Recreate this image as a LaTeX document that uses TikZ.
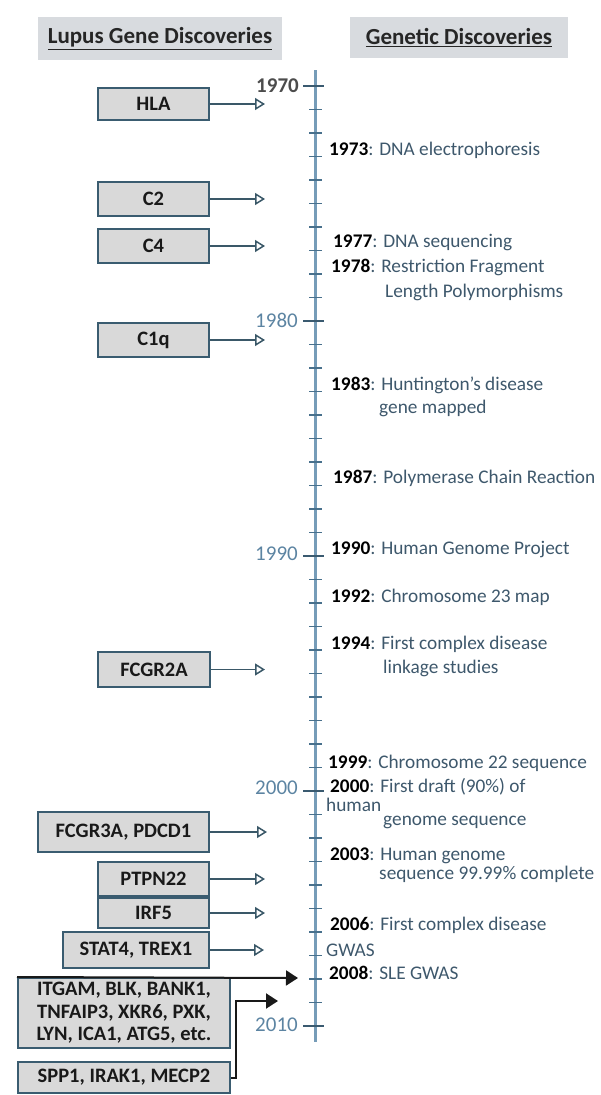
\documentclass[tikz,border=0pt]{standalone}
\usepackage{fontspec}
\setmainfont{Carlito}
\usetikzlibrary{arrows.meta, positioning, calc}

\definecolor{axisblue}{RGB}{118,156,184}
\definecolor{tickblue}{RGB}{72,112,140}
\definecolor{decblue}{RGB}{92,132,162}
\definecolor{desccol}{RGB}{62,88,108}
\definecolor{boxedge}{RGB}{58,92,112}
\definecolor{boxfill}{RGB}{217,217,217}
\definecolor{arrcol}{RGB}{58,88,104}
\definecolor{headfill}{RGB}{216,219,223}

\begin{document}
\begin{tikzpicture}[x=1pt, y=-1pt, >=Stealth,
    genebox/.style={draw=boxedge, fill=boxfill, line width=2pt, inner sep=0pt,
      align=center, text=black!90, font=\fontsize{20.5}{22.5}\selectfont\bfseries},
    header/.style={fill=headfill, inner sep=0pt, text=black!85,
      font=\fontsize{23}{25}\selectfont\bfseries},
    eventtxt/.style={anchor=west, inner sep=0pt, text=desccol,
      font=\fontsize{19.3}{21}\selectfont},
    decade/.style={anchor=east, inner sep=0pt, text=decblue,
      font=\fontsize{21}{23}\selectfont},
    openarr/.style={draw=arrcol, line width=1.5pt,
      -{Triangle[open, length=10pt, width=12pt, line width=1.5pt]}},
    solidarr/.style={draw=black!90, line width=2pt,
      -{Triangle[length=12pt, width=15pt]}}]
  \useasboundingbox (0,0) rectangle (600,1095);

  % Headers
  \node[header, minimum width=244pt, minimum height=43pt] (lhead) at (160,38.5)
    {\underline{Lupus Gene Discoveries}};
  \node[header, minimum width=218pt, minimum height=41pt] (rhead) at (459,37.5)
    {\underline{Genetic Discoveries}};

  % Time axis
  \coordinate (axtop) at (315,70);
  \coordinate (axbot) at (315,1042);
  \draw[axisblue, line width=3pt] (axtop) -- (axbot);
  \foreach \k in {0,...,40}
    \draw[tickblue, line width=1.5pt] (309,86+23.5*\k) -- (322,86+23.5*\k);
  \foreach \k in {0,...,4}
    \draw[tickblue!80!black, line width=2.5pt] (303,86+235*\k) -- (324,86+235*\k);

  % Decade labels
  \node[decade, text=black!70, font=\fontsize{21}{23}\selectfont\bfseries] (y1970) at (299,86) {1970};
  \node[decade] (y1980) at (298,320) {1980};
  \node[decade] (y1990) at (298,554) {1990};
  \node[decade] (y2000) at (298,788) {2000};
  \node[decade] (y2010) at (298,1025) {2010};

  % Gene boxes
  \node[genebox, minimum width=111pt, minimum height=32pt] (hla) at (153.5,104) {HLA};
  \node[genebox, minimum width=111pt, minimum height=34pt] (c2) at (153.5,199) {C2};
  \node[genebox, minimum width=111pt, minimum height=34pt] (c4) at (153.5,246) {C4};
  \node[genebox, minimum width=111pt, minimum height=34pt] (c1q) at (153.5,340) {C1q};
  \node[genebox, minimum width=112pt, minimum height=35pt] (fcgr2a) at (154,669.5) {FCGR2A};
  \node[genebox, minimum width=171pt, minimum height=40pt] (fcgr3a) at (123.5,832) {FCGR3A, PDCD1};
  \node[genebox, minimum width=111pt, minimum height=34pt] (ptpn22) at (153.5,879) {PTPN22};
  \node[genebox, minimum width=111pt, minimum height=30pt] (irf5) at (153.5,913) {IRF5};
  \node[genebox, minimum width=146pt, minimum height=36pt] (stat4) at (136,950) {STAT4, TREX1};
  \node[genebox, minimum width=212pt, minimum height=70pt] (itgam) at (124,1013)
    {ITGAM, BLK, BANK1,\\TNFAIP3, XKR6, PXK,\\LYN, ICA1, ATG5, etc.};
  \node[genebox, minimum width=212pt, minimum height=31pt] (spp1) at (124,1077.5) {SPP1, IRAK1, MECP2};

  % Arrow tips
  \coordinate (hla-t) at (265,104);
  \coordinate (c2-t) at (265,199);
  \coordinate (c4-t) at (265,246);
  \coordinate (c1q-t) at (265,340);
  \coordinate (fcgr2a-t) at (265,669.5);
  \coordinate (fcgr3a-t) at (267,832);
  \coordinate (ptpn22-t) at (265,879);
  \coordinate (irf5-t) at (265,913);
  \coordinate (stat4-t) at (264,950);
  \coordinate (itgam-t) at (298,978);
  \coordinate (spp1-t) at (278,1001);

  % Arrows
  \foreach \g in {hla,c2,c4,c1q,fcgr2a,fcgr3a,ptpn22,irf5,stat4}
    \draw[openarr] (\g.east) -- (\g-t);
  \draw[solidarr] (itgam.north west) -- (itgam-t);
  \draw[solidarr] (spp1.east) -- ++(5,0) |- (spp1-t);

  % Genetic discoveries
  \node[eventtxt] (e73) at (329,150) {\textbf{\color{black}1973}: DNA electrophoresis};
  \node[eventtxt] (e77) at (333,243) {\textbf{\color{black}1977}: DNA sequencing};
  \node[eventtxt] (e78) at (331,267) {\textbf{\color{black}1978}: Restriction Fragment};
  \node[eventtxt] (e78b) at (385,292) {Length Polymorphisms};
  \node[eventtxt] (e83) at (331,385) {\textbf{\color{black}1983}: Huntington's disease};
  \node[eventtxt] (e83b) at (379,408) {gene mapped};
  \node[eventtxt] (e87) at (333,478) {\textbf{\color{black}1987}: Polymerase Chain Reaction};
  \node[eventtxt] (e90) at (331,550) {\textbf{\color{black}1990}: Human Genome Project};
  \node[eventtxt] (e92) at (331,597) {\textbf{\color{black}1992}: Chromosome 23 map};
  \node[eventtxt] (e94) at (331,644) {\textbf{\color{black}1994}: First complex disease};
  \node[eventtxt] (e94b) at (383,668) {linkage studies};
  \node[eventtxt] (e99) at (328,763) {\textbf{\color{black}1999}: Chromosome 22 sequence};
  \node[eventtxt] (e00) at (330,787) {\textbf{\color{black}2000}: First draft (90\%) of};
  \node[eventtxt] (e00b) at (326,805) {human};
  \node[eventtxt] (e00c) at (383,822) {genome sequence};
  \node[eventtxt] (e03) at (330,856) {\textbf{\color{black}2003}: Human genome};
  \node[eventtxt] (e03b) at (379,874) {sequence 99.99\% complete};
  \node[eventtxt] (e06) at (330,925) {\textbf{\color{black}2006}: First complex disease};
  \node[eventtxt] (e06b) at (326,950) {GWAS};
  \node[eventtxt] (e08) at (329,973) {\textbf{\color{black}2008}: SLE GWAS};
\end{tikzpicture}
\end{document}
